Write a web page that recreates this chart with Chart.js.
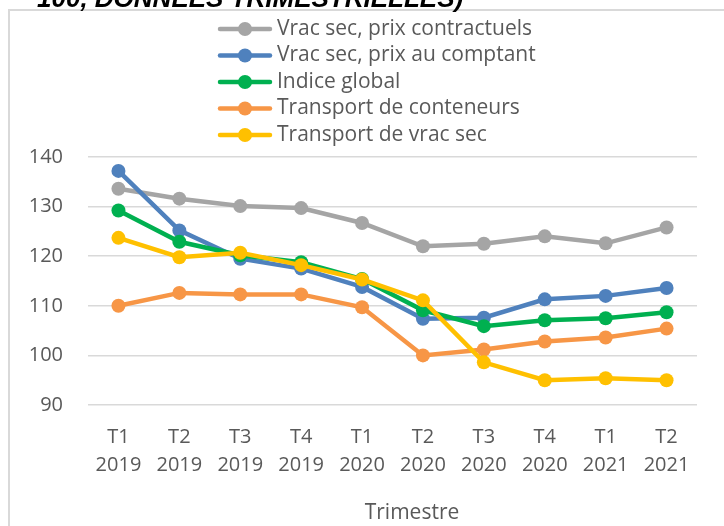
<!DOCTYPE html>
<html>
<head>
<meta charset="utf-8">
<script src="https://cdn.jsdelivr.net/npm/chart.js@4.4.0/dist/chart.umd.min.js"></script>
<style>
html, body { margin: 0; padding: 0; background: #fff; overflow: hidden; }
#wrap { position: relative; width: 724px; height: 526px; }
#title { position: absolute; left: 37px; top: -17px; line-height: 26px; font: bold italic 26px "Liberation Sans", Arial, sans-serif; color: #000; white-space: nowrap; }
canvas { position: absolute; left: 0; top: 0; }
</style>
</head>
<body>
<div id="wrap">
  <canvas id="lineChart" width="724" height="526"></canvas>
  <div id="title">100, DONNÉES TRIMESTRIELLES)</div>
</div>
<script>
const quarters = ['T1', 'T2', 'T3', 'T4', 'T1', 'T2', 'T3', 'T4', 'T1', 'T2'];
const years = ['2019', '2019', '2019', '2019', '2020', '2020', '2020', '2020', '2021', '2021'];
const yTicks = [90, 100, 110, 120, 130, 140];
const xTitle = 'Trimestre';

const seriesNames = [
    'Vrac sec, prix contractuels',
    'Vrac sec, prix au comptant',
    'Indice global',
    'Transport de conteneurs',
    'Transport de vrac sec'
];
const vracContrat = [133.6, 131.6, 130.1, 129.7, 126.7, 122.0, 122.5, 124.0, 122.6, 125.8];
const vracComptant = [137.2, 125.2, 119.5, 117.5, 113.8, 107.4, 107.6, 111.3, 112.0, 113.6];
const indiceGlobal = [129.2, 122.9, 120.2, 118.8, 115.4, 109.1, 105.9, 107.1, 107.5, 108.7];
const conteneurs = [110.0, 112.6, 112.3, 112.3, 109.7, 100.0, 101.2, 102.8, 103.6, 105.4];
const vracTransport = [123.7, 119.8, 120.7, 118.2, 115.3, 111.1, 98.6, 95.0, 95.4, 95.0];

const COLORS = {
    gray: '#a5a5a5',
    blue: '#4f81bd',
    green: '#00b050',
    orange: '#f79646',
    yellow: '#ffc000',
    grid: '#d9d9d9',
    text: '#595959',
};

const FONT = '"Open Sans", sans-serif';
Chart.defaults.font.family = FONT;
Chart.defaults.color = COLORS.text;

function makeSeries(i, data, color) {
    return {
        label: seriesNames[i],
        data: data,
        borderColor: color,
        backgroundColor: color,
        pointBackgroundColor: color,
        pointBorderColor: color,
        borderWidth: 4.5,
        pointRadius: 7,
        pointBorderWidth: 0,
        tension: 0,
        fill: false,
        order: 5 - i,
    };
}

// cadre gris + légende verticale + titre de l'axe
const decorPlugin = {
    id: 'decor',
    beforeDraw(chart) {
        const ctx = chart.ctx;
        ctx.save();
        ctx.strokeStyle = COLORS.grid;
        ctx.lineWidth = 2;
        ctx.beginPath();
        ctx.moveTo(9, 526);
        ctx.lineTo(9, 10);
        ctx.lineTo(724, 10);
        ctx.stroke();
        ctx.restore();
    },
    afterDraw(chart) {
        const ctx = chart.ctx;
        ctx.save();
        chart.data.datasets.forEach((ds, i) => {
            const y = 29 + i * 26.5;
            ctx.strokeStyle = ds.borderColor;
            ctx.lineWidth = 4.5;
            ctx.lineCap = 'round';
            ctx.beginPath();
            ctx.moveTo(220, y);
            ctx.lineTo(270, y);
            ctx.stroke();
            ctx.fillStyle = ds.borderColor;
            ctx.beginPath();
            ctx.arc(245, y, 7, 0, Math.PI * 2);
            ctx.fill();
            ctx.fillStyle = COLORS.text;
            ctx.font = '21px ' + FONT;
            ctx.textBaseline = 'middle';
            ctx.textAlign = 'left';
            ctx.fillText(ds.label, 277, y);
        });
        ctx.font = '21px ' + FONT;
        ctx.textAlign = 'center';
        ctx.textBaseline = 'middle';
        ctx.fillStyle = COLORS.text;
        ctx.fillText(xTitle, 412, 513);
        ctx.restore();
    }
};

new Chart(document.getElementById('lineChart'), {
    type: 'line',
    data: {
        labels: quarters.map((q, i) => [q, years[i]]),
        datasets: [
            makeSeries(0, vracContrat, COLORS.gray),
            makeSeries(1, vracComptant, COLORS.blue),
            makeSeries(2, indiceGlobal, COLORS.green),
            makeSeries(3, conteneurs, COLORS.orange),
            makeSeries(4, vracTransport, COLORS.yellow),
        ]
    },
    options: {
        responsive: false,
        animation: false,
        layout: { padding: { left: 10, top: 157, right: 27, bottom: 0 } },
        plugins: {
            legend: { display: false },
            tooltip: { enabled: false }
        },
        scales: {
            x: {
                offset: true,
                grid: { display: false, drawTicks: false },
                border: { display: false },
                ticks: {
                    color: COLORS.text,
                    font: { size: 20, lineHeight: 1.375 },
                    padding: 19,
                    maxRotation: 0,
                    autoSkip: false
                },
                afterFit: (s) => { s.height = 121; }
            },
            y: {
                min: yTicks[0],
                max: yTicks[yTicks.length - 1],
                afterBuildTicks: (s) => { s.ticks = yTicks.map(v => ({ value: v })); },
                grid: { color: COLORS.grid, lineWidth: 1.5, drawTicks: false },
                border: { display: false },
                ticks: {
                    color: COLORS.text,
                    font: { size: 20 },
                    padding: 25
                },
                afterFit: (s) => { s.width = 78; }
            }
        }
    },
    plugins: [decorPlugin]
});
</script>
</body>
</html>
